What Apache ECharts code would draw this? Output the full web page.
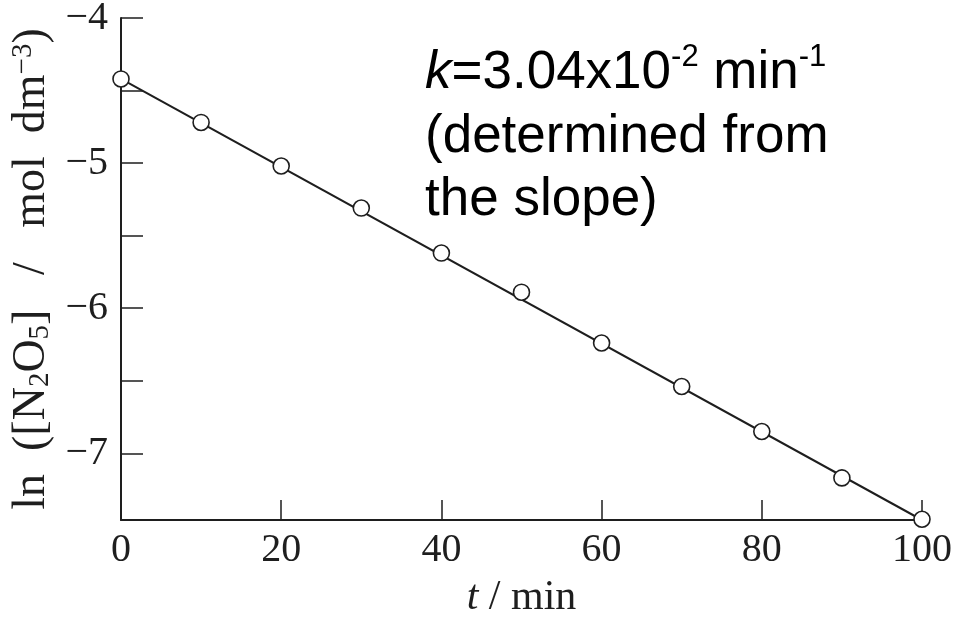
<!DOCTYPE html>
<html>
<head>
<meta charset="utf-8">
<script src="https://cdn.jsdelivr.net/npm/echarts@6/dist/echarts.min.js"></script>
<style>
html,body{margin:0;padding:0;background:#fff;}
#chart{width:957px;height:617px;}
</style>
</head>
<body>
<div id="chart"></div>
<script>
// Data
var times = [0, 10, 20, 30, 40, 50, 60, 70, 80, 90, 100];
var lnConc = [-4.42, -4.72, -5.02, -5.31, -5.62, -5.89, -6.24, -6.54, -6.85, -7.17, -7.455];
var fitTimes = [0, 100];
var fitLn = [-4.42, -7.46];
var xTicks = [0, 20, 40, 60, 80, 100];
var yLabelValues = [-7, -6, -5, -4];
var yTickValues = [-7, -6.5, -6, -5.5, -5, -4.5, -4];

var ink = '#1e1e1e';
var serif = '"Liberation Serif", "Times New Roman", serif';
var sans = '"Liberation Sans", Arial, sans-serif';

var chart = echarts.init(document.getElementById('chart'), null, {renderer: 'canvas'});

var pts = times.map(function (t, i) { return [t, lnConc[i]]; });
var fit = fitTimes.map(function (t, i) { return [t, fitLn[i]]; });

chart.setOption({
  backgroundColor: '#ffffff',
  animation: false,
  grid: {left: 121, right: 35, top: 18, bottom: 97, containLabel: false, outerBoundsMode: 'none'},
  xAxis: {
    type: 'value',
    min: 0, max: 100, interval: 20,
    axisLine: {show: true, onZero: false, lineStyle: {color: ink, width: 2}},
    axisTick: {show: true, inside: true, length: 20, lineStyle: {color: ink, width: 1.5},
      customValues: xTicks.slice(1)},
    axisLabel: {color: ink, fontFamily: serif, fontSize: 40, margin: 10, customValues: xTicks},
    splitLine: {show: false},
    name: '{it|t} / min',
    nameLocation: 'middle',
    nameGap: 57,
    nameTextStyle: {
      color: ink, fontFamily: serif, fontSize: 42,
      rich: {it: {fontStyle: 'italic', fontFamily: serif, fontSize: 42, color: ink}}
    }
  },
  yAxis: {
    type: 'value',
    min: -7.46, max: -4,
    axisLine: {show: true, onZero: false, lineStyle: {color: ink, width: 2}},
    axisTick: {show: true, inside: true, length: 22, lineStyle: {color: ink, width: 1.5},
      customValues: yTickValues},
    axisLabel: {
      color: ink, fontFamily: serif, fontSize: 40, margin: 13,
      padding: [6, 0, 0, 0],
      customValues: yLabelValues,
      formatter: function (v) { return '\u2212' + Math.abs(v); }
    },
    splitLine: {show: false},
    name: 'ln  ([N{sub|2}O{sub|5}]   /   mol  dm{sup|\u22123})',
    nameLocation: 'middle',
    nameRotate: 90,
    nameGap: 64,
    nameTextStyle: {
      color: ink, fontFamily: serif, fontSize: 46,
      rich: {
        sub: {fontFamily: serif, fontSize: 29, color: ink, verticalAlign: 'bottom', lineHeight: 46, padding: [14, 0, 0, 0]},
        sup: {fontFamily: serif, fontSize: 29, color: ink, verticalAlign: 'top', lineHeight: 46, padding: [0, 0, 14, 0]}
      }
    }
  },
  series: [
    {
      type: 'line',
      data: fit,
      showSymbol: false,
      lineStyle: {color: ink, width: 2},
      z: 2
    },
    {
      type: 'scatter',
      data: pts,
      symbol: 'circle',
      symbolSize: 16,
      itemStyle: {color: '#ffffff', borderColor: ink, borderWidth: 1.6, opacity: 1},
      z: 3
    }
  ],
  graphic: [
    {
      type: 'text', left: 425, top: 42,
      style: {
        text: '{k|k}{n|=3.04x10}{s|-2}{n| min}{s|-1}',
        rich: {
          k: {fontFamily: sans, fontStyle: 'italic', fontSize: 53, fill: '#000', lineHeight: 58, verticalAlign: 'bottom'},
          n: {fontFamily: sans, fontSize: 53, fill: '#000', lineHeight: 58, verticalAlign: 'bottom'},
          s: {fontFamily: sans, fontSize: 31, fill: '#000', lineHeight: 58, verticalAlign: 'top'}
        }
      }
    },
    {
      type: 'text', left: 425, top: 111,
      style: {text: '(determined from', font: '53px ' + sans, fill: '#000'}
    },
    {
      type: 'text', left: 425, top: 174,
      style: {text: 'the slope)', font: '53px ' + sans, fill: '#000'}
    }
  ]
});
</script>
</body>
</html>
